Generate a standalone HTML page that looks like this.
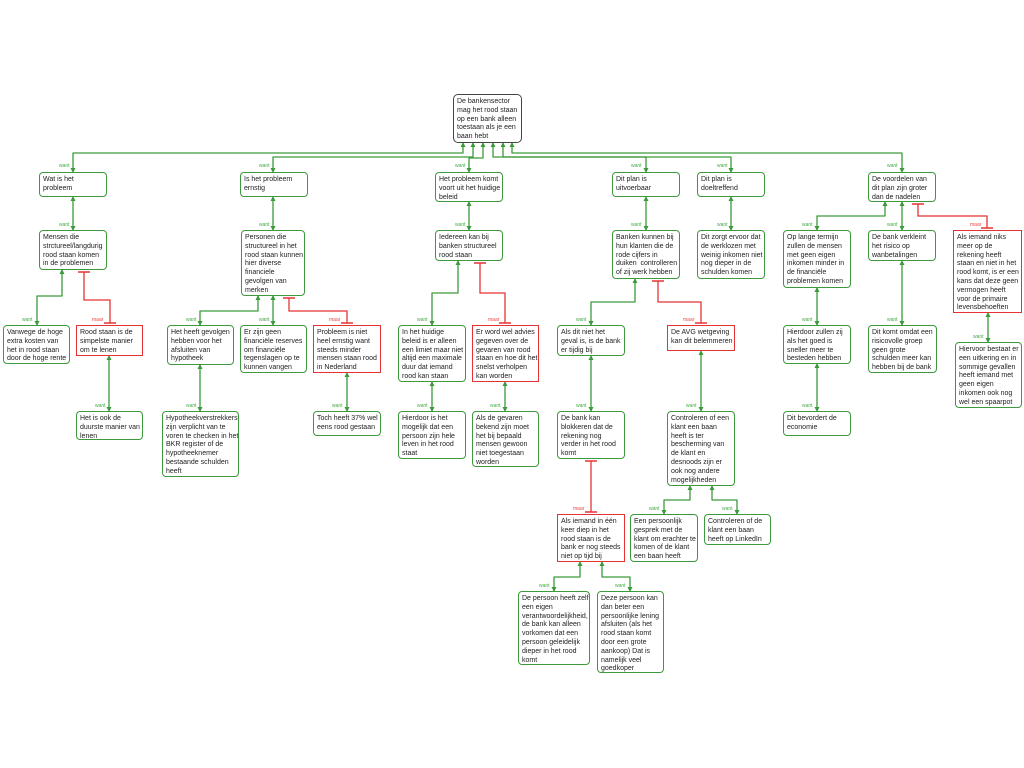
<!DOCTYPE html>
<html><head><meta charset="utf-8">
<style>
body{margin:0;width:1024px;height:768px;background:#fff;position:relative;overflow:hidden;font-family:"Liberation Sans",sans-serif}
.b{position:absolute;box-sizing:border-box;background:#fff;border:1.3px solid #3c9a3c;border-radius:4px;padding:3px 2px 2px 3px;font-size:7px;line-height:8.8px;color:#222;z-index:2;white-space:nowrap;overflow:visible}
.r{border:1.5px solid #e53333;border-radius:0}
.root{border:1.5px solid #444;border-radius:5px}
svg{position:absolute;left:0;top:0;z-index:1}
.l{position:absolute;font-size:5px;z-index:3}
.w{color:#4a4}.m{color:#e44}
</style></head><body>
<svg width="1024" height="768">
<defs>
<marker id="a" markerWidth="5" markerHeight="5" refX="4" refY="2.5" orient="auto-start-reverse" markerUnits="userSpaceOnUse"><path d="M0,0 L5,2.5 L0,5z" fill="#3c9a3c"/></marker>
<marker id="t" markerWidth="2" markerHeight="12" refX="1" refY="6" orient="auto" markerUnits="userSpaceOnUse"><path d="M1,0 L1,12" stroke="#e53333" stroke-width="1.5"/></marker>
</defs>
<g fill="none" stroke="#3c9a3c" stroke-width="1.3" stroke-linejoin="round" marker-start="url(#a)" marker-end="url(#a)">
<path d="M463,143 V153 H73 V172"/>
<path d="M473,143 V157 H273 V172"/>
<path d="M483,143 V158 H469 V172"/>
<path d="M493,143 V157 H646 V172"/>
<path d="M503,143 V157 H731 V172"/>
<path d="M512,143 V153 H902 V172"/>
<path d="M73,197 V230"/><path d="M273,197 V230"/><path d="M469,202 V230"/>
<path d="M646,197 V230"/><path d="M731,197 V230"/>
<path d="M885,202 V216 H817 V230"/><path d="M902,202 V230"/>
<path d="M62,270 V296 H37 V325"/>
<path d="M109,356 V411"/>
<path d="M258,296 V311 H200 V325"/><path d="M273,296 V325"/>
<path d="M200,365 V411"/><path d="M347,373 V411"/>
<path d="M458,261 V293 H432 V325"/>
<path d="M432,382 V411"/><path d="M505,382 V411"/>
<path d="M635,279 V302 H591 V325"/>
<path d="M591,356 V411"/><path d="M701,351 V411"/>
<path d="M690,486 V500 H664 V514"/><path d="M712,486 V500 H737 V514"/>
<path d="M580,562 V577 H554 V591"/><path d="M602,562 V577 H630 V591"/>
<path d="M817,288 V325"/><path d="M817,364 V411"/><path d="M902,261 V325"/>
<path d="M988,313 V342"/>
</g>
<g fill="none" stroke="#e53333" stroke-width="1.3" marker-start="url(#t)" marker-end="url(#t)">
<path d="M84,272 V300 H110 V323"/>
<path d="M289,298 V311 H347 V323"/>
<path d="M480,263 V293 H505 V323"/>
<path d="M658,281 V302 H701 V323"/>
<path d="M591,461 V512"/>
<path d="M918,204 V216 H987 V228"/>
</g>
</svg>

<div class="b root" style="left:453px;top:94px;width:69px;height:49px">De bankensector<br>mag het rood staan<br>op een bank alleen<br>toestaan als je een<br>baan hebt</div>

<div class="b" style="left:39px;top:172px;width:68px;height:25px">Wat is het<br>probleem</div>
<div class="b" style="left:240px;top:172px;width:68px;height:25px">Is het probleem<br>ernstig</div>
<div class="b" style="left:435px;top:172px;width:68px;height:30px">Het probleem komt<br>voort uit het huidige<br>beleid</div>
<div class="b" style="left:612px;top:172px;width:68px;height:25px">Dit plan is<br>uitvoerbaar</div>
<div class="b" style="left:697px;top:172px;width:68px;height:25px">Dit plan is<br>doeltreffend</div>
<div class="b" style="left:868px;top:172px;width:68px;height:30px">De voordelen van<br>dit plan zijn groter<br>dan de nadelen</div>

<div class="b" style="left:39px;top:230px;width:68px;height:40px">Mensen die<br>strctureel/langdurig<br>rood staan komen<br>in de problemen</div>
<div class="b" style="left:241px;top:230px;width:64px;height:66px">Personen die<br>structureel in het<br>rood staan kunnen<br>hier diverse<br>financiele<br>gevolgen van<br>merken</div>
<div class="b" style="left:435px;top:230px;width:68px;height:31px">Iedereen kan bij<br>banken structureel<br>rood staan</div>
<div class="b" style="left:612px;top:230px;width:68px;height:49px">Banken kunnen bij<br>hun klanten die de<br>rode cijfers in<br>duiken&nbsp; controlleren<br>of zij werk hebben</div>
<div class="b" style="left:697px;top:230px;width:68px;height:49px">Dit zorgt ervoor dat<br>de werklozen met<br>weinig inkomen niet<br>nog dieper in de<br>schulden komen</div>
<div class="b" style="left:783px;top:230px;width:68px;height:58px">Op lange termijn<br>zullen de mensen<br>met geen eigen<br>inkomen minder in<br>de financiële<br>problemen komen</div>
<div class="b" style="left:868px;top:230px;width:68px;height:31px">De bank verkleint<br>het risico op<br>wanbetalingen</div>
<div class="b r" style="left:953px;top:230px;width:69px;height:83px">Als iemand niks<br>meer op de<br>rekening heeft<br>staan en niet in het<br>rood komt, is er een<br>kans dat deze geen<br>vermogen heeft<br>voor de primaire<br>levensbehoeften</div>

<div class="b" style="left:3px;top:325px;width:67px;height:39px">Vanwege de hoge<br>extra kosten van<br>het in rood staan<br>door de hoge rente</div>
<div class="b r" style="left:76px;top:325px;width:67px;height:31px">Rood staan is de<br>simpelste manier<br>om te lenen</div>
<div class="b" style="left:167px;top:325px;width:67px;height:40px">Het heeft gevolgen<br>hebben voor het<br>afsluiten van<br>hypotheek</div>
<div class="b" style="left:240px;top:325px;width:67px;height:48px">Er zijn geen<br>financiële reserves<br>om financiële<br>tegenslagen op te<br>kunnen vangen</div>
<div class="b r" style="left:313px;top:325px;width:68px;height:48px">Probleem is niet<br>heel ernstig want<br>steeds minder<br>mensen staan rood<br>in Nederland</div>
<div class="b" style="left:398px;top:325px;width:68px;height:57px">In het huidige<br>beleid is er alleen<br>een limiet maar niet<br>altijd een maximale<br>duur dat iemand<br>rood kan staan</div>
<div class="b r" style="left:472px;top:325px;width:67px;height:57px">Er word wel advies<br>gegeven over de<br>gevaren van rood<br>staan en hoe dit het<br>snelst verholpen<br>kan worden</div>
<div class="b" style="left:557px;top:325px;width:68px;height:31px">Als dit niet het<br>geval is, is de bank<br>er tijdig bij</div>
<div class="b r" style="left:667px;top:325px;width:68px;height:26px">De AVG wetgeving<br>kan dit belemmeren</div>
<div class="b" style="left:783px;top:325px;width:68px;height:39px">Hierdoor zullen zij<br>als het goed is<br>sneller meer te<br>besteden hebben</div>
<div class="b" style="left:868px;top:325px;width:69px;height:48px">Dit komt omdat een<br>risicovolle groep<br>geen grote<br>schulden meer kan<br>hebben bij de bank</div>
<div class="b" style="left:955px;top:342px;width:67px;height:66px">Hiervoor bestaat er<br>een uitkering en in<br>sommige gevallen<br>heeft iemand met<br>geen eigen<br>inkomen ook nog<br>wel een spaarpot</div>

<div class="b" style="left:76px;top:411px;width:67px;height:29px">Het is ook de<br>duurste manier van<br>lenen</div>
<div class="b" style="left:162px;top:411px;width:77px;height:66px">Hypotheekverstrekkers<br>zijn verplicht van te<br>voren te checken in het<br>BKR register of de<br>hypotheeknemer<br>bestaande schulden<br>heeft</div>
<div class="b" style="left:313px;top:411px;width:68px;height:25px">Toch heeft 37% wel<br>eens rood gestaan</div>
<div class="b" style="left:398px;top:411px;width:68px;height:48px">Hierdoor is het<br>mogelijk dat een<br>persoon zijn hele<br>leven in het rood<br>staat</div>
<div class="b" style="left:472px;top:411px;width:67px;height:56px">Als de gevaren<br>bekend zijn moet<br>het bij bepaald<br>mensen gewoon<br>niet toegestaan<br>worden</div>
<div class="b" style="left:557px;top:411px;width:68px;height:48px">De bank kan<br>blokkeren dat de<br>rekening nog<br>verder in het rood<br>komt</div>
<div class="b" style="left:667px;top:411px;width:68px;height:75px">Controleren of een<br>klant een baan<br>heeft is ter<br>bescherming van<br>de klant en<br>desnoods zijn er<br>ook nog andere<br>mogelijkheden</div>
<div class="b" style="left:783px;top:411px;width:68px;height:25px">Dit bevordert de<br>economie</div>

<div class="b r" style="left:557px;top:514px;width:68px;height:48px">Als iemand in één<br>keer diep in het<br>rood staan is de<br>bank er nog steeds<br>niet op tijd bij</div>
<div class="b" style="left:630px;top:514px;width:68px;height:48px">Een persoonlijk<br>gesprek met de<br>klant om erachter te<br>komen of de klant<br>een baan heeft</div>
<div class="b" style="left:704px;top:514px;width:67px;height:31px">Controleren of de<br>klant een baan<br>heeft op LinkedIn</div>

<div class="b" style="left:518px;top:591px;width:72px;height:74px">De persoon heeft zelf<br>een eigen<br>verantwoordelijkheid,<br>de bank kan alleen<br>vorkomen dat een<br>persoon geleidelijk<br>dieper in het rood<br>komt</div>
<div class="b" style="left:597px;top:591px;width:67px;height:82px">Deze persoon kan<br>dan beter een<br>persoonlijke lening<br>afsluiten (als het<br>rood staan komt<br>door een grote<br>aankoop) Dat is<br>namelijk veel<br>goedkoper</div>

<div class="l w" style="left:59px;top:163px">want</div>
<div class="l w" style="left:259px;top:163px">want</div>
<div class="l w" style="left:455px;top:163px">want</div>
<div class="l w" style="left:631px;top:163px">want</div>
<div class="l w" style="left:717px;top:163px">want</div>
<div class="l w" style="left:887px;top:163px">want</div>
<div class="l w" style="left:59px;top:222px">want</div>
<div class="l w" style="left:259px;top:222px">want</div>
<div class="l w" style="left:455px;top:222px">want</div>
<div class="l w" style="left:631px;top:222px">want</div>
<div class="l w" style="left:717px;top:222px">want</div>
<div class="l w" style="left:802px;top:222px">want</div>
<div class="l w" style="left:887px;top:222px">want</div>
<div class="l m" style="left:970px;top:222px">maar</div>
<div class="l w" style="left:22px;top:317px">want</div>
<div class="l m" style="left:92px;top:317px">maar</div>
<div class="l w" style="left:186px;top:317px">want</div>
<div class="l w" style="left:259px;top:317px">want</div>
<div class="l m" style="left:329px;top:317px">maar</div>
<div class="l w" style="left:417px;top:317px">want</div>
<div class="l m" style="left:488px;top:317px">maar</div>
<div class="l w" style="left:576px;top:317px">want</div>
<div class="l m" style="left:683px;top:317px">maar</div>
<div class="l w" style="left:802px;top:317px">want</div>
<div class="l w" style="left:887px;top:317px">want</div>
<div class="l w" style="left:973px;top:334px">want</div>
<div class="l w" style="left:95px;top:403px">want</div>
<div class="l w" style="left:186px;top:403px">want</div>
<div class="l w" style="left:332px;top:403px">want</div>
<div class="l w" style="left:417px;top:403px">want</div>
<div class="l w" style="left:490px;top:403px">want</div>
<div class="l w" style="left:576px;top:403px">want</div>
<div class="l w" style="left:686px;top:403px">want</div>
<div class="l w" style="left:802px;top:403px">want</div>
<div class="l m" style="left:573px;top:506px">maar</div>
<div class="l w" style="left:649px;top:506px">want</div>
<div class="l w" style="left:722px;top:506px">want</div>
<div class="l w" style="left:539px;top:583px">want</div>
<div class="l w" style="left:615px;top:583px">want</div>
</body></html>
